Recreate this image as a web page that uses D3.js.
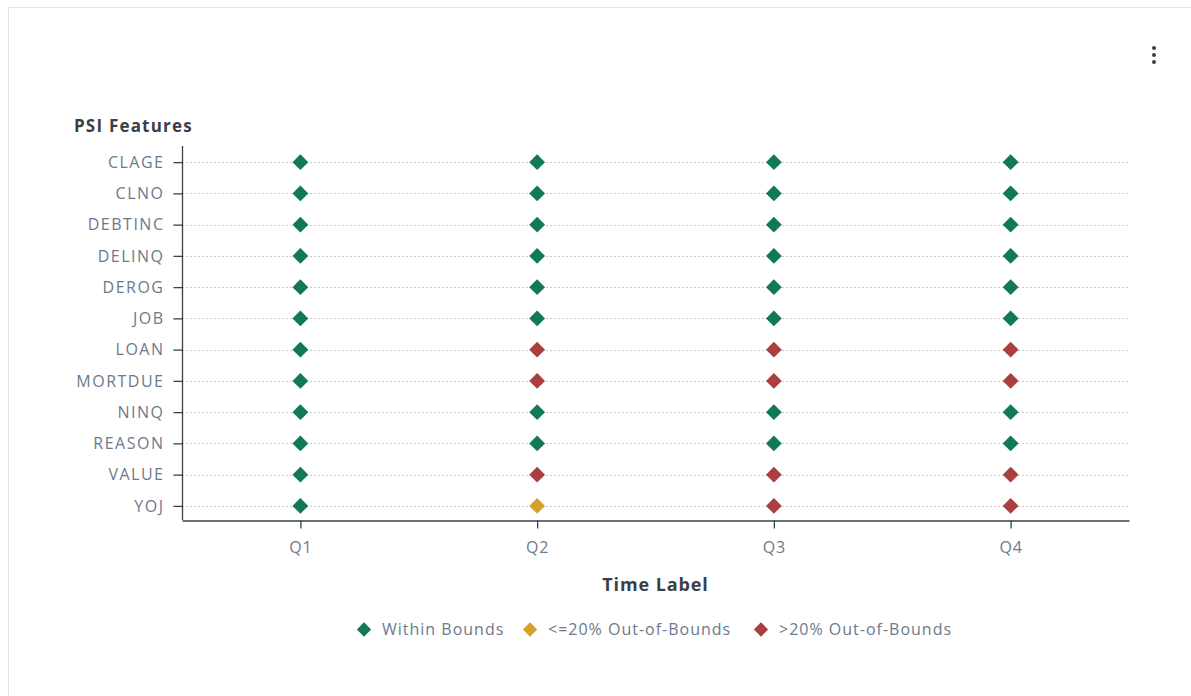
<!DOCTYPE html>
<html>
<head>
<meta charset="utf-8">
<script src="https://cdn.jsdelivr.net/npm/d3@7"></script>
<style>
  html, body { margin: 0; padding: 0; background: #fff; }
  body { width: 1191px; height: 696px; overflow: hidden; font-family: "Open Sans", sans-serif; }
</style>
</head>
<body>
<svg id="chart" width="1191" height="696"></svg>
<script>
// Features (rows) and time periods (columns)
const features = ["CLAGE", "CLNO", "DEBTINC", "DELINQ", "DEROG", "JOB", "LOAN", "MORTDUE", "NINQ", "REASON", "VALUE", "YOJ"];
const periods = ["Q1", "Q2", "Q3", "Q4"];

// PSI status per feature for each period: 0 = within, 1 = <=20% out, 2 = >20% out
const statusQ1 = [0, 0, 0, 0, 0, 0, 0, 0, 0, 0, 0, 0];
const statusQ2 = [0, 0, 0, 0, 0, 0, 2, 2, 0, 0, 2, 1];
const statusQ3 = [0, 0, 0, 0, 0, 0, 2, 2, 0, 0, 2, 2];
const statusQ4 = [0, 0, 0, 0, 0, 0, 2, 2, 0, 0, 2, 2];

const legendLabels = ["Within Bounds", "<=20% Out-of-Bounds", ">20% Out-of-Bounds"];
const statusColors = ["#117a54", "#d4a22b", "#ab3f3f"];

const statusByPeriod = [statusQ1, statusQ2, statusQ3, statusQ4];
const points = [];
periods.forEach((p, i) => {
  features.forEach((f, j) => points.push({ period: p, feature: f, status: statusByPeriod[i][j] }));
});

const svg = d3.select("#chart");
const FONT = "'Open Sans', sans-serif";

// Card frame
svg.append("rect")
  .attr("x", 8.5).attr("y", 7.5).attr("width", 1200).attr("height", 720)
  .attr("fill", "#fff").attr("stroke", "#e3e3e3").attr("stroke-width", 1);

// Overflow menu dots
[48, 55, 62].forEach(cy => {
  svg.append("circle").attr("cx", 1154).attr("cy", cy).attr("r", 2).attr("fill", "#3a3f48");
});

const plot = { left: 182, right: 1129, top: 146, bottom: 520 };

const x = d3.scalePoint().domain(periods).range([plot.left, plot.right]).padding(0.5);
const y = d3.scalePoint().domain(features).range([plot.top + 0.5, plot.bottom + 1.5]).padding(0.5);

const labelColor = "#6d798c";
const axisColor = "#3a3f48";

// Dashed horizontal grid lines
svg.append("g").selectAll("line")
  .data(features).join("line")
  .attr("x1", plot.left).attr("x2", plot.right)
  .attr("y1", d => Math.round(y(d)) + 0.5).attr("y2", d => Math.round(y(d)) + 0.5)
  .attr("stroke", "#c8c8c8").attr("stroke-width", 1).attr("stroke-dasharray", "2,2");

// Y axis (ticks and labels; the axis line itself is drawn below)
const yAxis = svg.append("g")
  .attr("transform", `translate(${plot.left + 0.5},0)`)
  .call(d3.axisLeft(y).tickSize(9).tickPadding(9).tickSizeOuter(0));
yAxis.select(".domain").remove();
yAxis.selectAll(".tick line").attr("stroke", axisColor).attr("stroke-width", 1.3);
yAxis.selectAll(".tick text")
  .attr("fill", labelColor).attr("font-size", 16).attr("font-family", FONT)
  .attr("letter-spacing", 1.5);
svg.append("line")
  .attr("x1", plot.left + 0.5).attr("x2", plot.left + 0.5)
  .attr("y1", plot.top).attr("y2", plot.bottom)
  .attr("stroke", axisColor).attr("stroke-width", 1.3);

// X axis
const xAxis = svg.append("g")
  .attr("transform", `translate(0,${plot.bottom + 0.5})`)
  .call(d3.axisBottom(x).tickSize(8).tickPadding(13).tickSizeOuter(0));
xAxis.select(".domain").attr("stroke", axisColor).attr("stroke-width", 1.3);
xAxis.selectAll(".tick line").attr("stroke", axisColor).attr("stroke-width", 1.3);
xAxis.selectAll(".tick text")
  .attr("fill", labelColor).attr("font-size", 16).attr("font-family", FONT)
  .attr("letter-spacing", 0.8);

// Axis titles
svg.append("text")
  .attr("x", 74).attr("y", 132)
  .attr("font-family", FONT).attr("font-size", 17).attr("font-weight", 700).attr("fill", "#3b3f45")
  .attr("letter-spacing", 1.2)
  .text("PSI Features");

svg.append("text")
  .attr("x", (plot.left + plot.right) / 2).attr("y", 591)
  .attr("text-anchor", "middle")
  .attr("font-family", FONT).attr("font-size", 18).attr("font-weight", 700).attr("fill", "#3b3f45")
  .attr("letter-spacing", 0.9)
  .text("Time Label");

// Diamond markers
const diamond = d3.symbol().type(d3.symbolDiamond2).size(160);
svg.append("g").selectAll("path")
  .data(points).join("path")
  .attr("transform", d => `translate(${x(d.period)},${y(d.feature)})`)
  .attr("d", diamond)
  .attr("fill", d => statusColors[d.status]);

// Legend
const legendX = [364, 530, 761];
const legend = svg.append("g");
legendLabels.forEach((lbl, i) => {
  legend.append("path")
    .attr("transform", `translate(${legendX[i]},629.5)`)
    .attr("d", d3.symbol().type(d3.symbolDiamond2).size(130))
    .attr("fill", statusColors[i]);
  legend.append("text")
    .attr("x", legendX[i] + 18).attr("y", 635)
    .attr("font-family", FONT).attr("font-size", 16).attr("fill", labelColor)
    .attr("letter-spacing", 1.0)
    .text(lbl);
});
</script>
</body>
</html>
